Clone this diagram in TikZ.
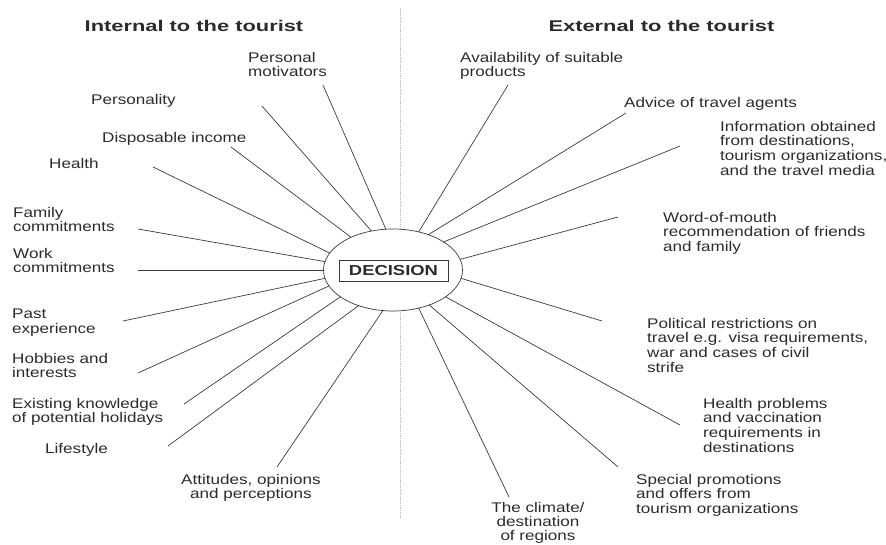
\documentclass[tikz,border=0pt]{standalone}
\usepackage{fontspec}
\setmainfont{Liberation Sans}[FakeStretch=1.22]
\newfontfamily\titlefont{Liberation Sans}[FakeStretch=1.41]
\newfontfamily\decfont{Liberation Sans}[FakeStretch=1.27]
\usetikzlibrary{shapes.geometric}
\definecolor{txt}{HTML}{2B2B2B}
\definecolor{ln}{HTML}{3A3A3A}
\tikzset{
  lab/.style={inner sep=0pt, anchor=north west, align=left, text=txt,
    font=\fontsize{14}{14.6}\selectfont},
  labc/.style={lab, anchor=north, align=center},
  ttl/.style={inner sep=0pt, text=txt, font=\titlefont\bfseries\fontsize{15.5}{18}\selectfont},
  spoke/.style={draw=ln, line width=0.7pt},
}
\begin{document}
\begin{tikzpicture}[x=1pt,y=-1pt]
\useasboundingbox (0,0) rectangle (886,544);
% divider
\draw[densely dotted, gray!55, line width=0.8pt] (400,8) -- (400,518);
% titles
\node[ttl] (tin) at (194,25.5) {Internal to the tourist};
\node[ttl] (tex) at (661.5,25.5) {External to the tourist};
% centre
\node[ellipse, draw=ln, line width=0.7pt, fill=white, minimum width=139pt, minimum height=82pt, inner sep=0pt, outer sep=0pt] (dec) at (393,270) {};
\node[draw=ln, line width=0.9pt, minimum width=109pt, minimum height=21pt, inner sep=0pt, text=txt, font=\decfont\bfseries\fontsize{14.5}{16}\selectfont] (decbox) at (393.5,270.5) {DECISION};
% left labels
\node[lab] (pm) at (248,52) {Personal\\motivators};
\node[lab] (per) at (91,94) {Personality};
\node[lab] (di) at (102,132) {Disposable income};
\node[lab] (he) at (49,158) {Health};
\node[lab] (fc) at (13,207) {Family\\commitments};
\node[lab] (wc) at (13,248) {Work\\commitments};
\node[lab] (pe) at (12,309) {Past\\experience};
\node[lab] (hi) at (12,353) {Hobbies and\\interests};
\node[lab] (ek) at (12,398) {Existing knowledge\\of potential holidays};
\node[lab] (ls) at (45,443) {Lifestyle};
\node[labc] (at) at (251,474) {Attitudes, opinions\\and perceptions};
% right labels
\node[lab] (av) at (460,52) {Availability of suitable\\products};
\node[lab] (ad) at (624,97) {Advice of travel agents};
\node[lab] (inf) at (720,121) {Information obtained\\from destinations,\\tourism organizations,\\and the travel media};
\node[lab] (wm) at (663,212) {Word-of-mouth\\recommendation of friends\\and family};
\node[lab] (po) at (647,318) {Political restrictions on\\travel e.g. visa requirements,\\war and cases of civil\\strife};
\node[lab] (hp) at (703,398) {Health problems\\and vaccination\\requirements in\\destinations};
\node[lab] (sp) at (636,474) {Special promotions\\and offers from\\tourism organizations};
\node[labc, font=\fontsize{14}{14.3}\selectfont] (cl) at (538,502) {The climate/\\destination\\of regions};
% spoke ends
\coordinate (opm) at (323,85);
\coordinate (oper) at (262,106);
\coordinate (odi) at (231,147);
\coordinate (ohe) at (153,167);
\coordinate (ofc) at (138,229);
\coordinate (owc) at (138,270);
\coordinate (ope) at (123,321);
\coordinate (ohi) at (138,373);
\coordinate (oek) at (184,404);
\coordinate (ols) at (168,446);
\coordinate (oat) at (277,467);
\coordinate (oav) at (508,85);
\coordinate (oad) at (626,113);
\coordinate (oinf) at (680,146);
\coordinate (owm) at (618,217);
\coordinate (opo) at (602,321);
\coordinate (ohp) at (680,425);
\coordinate (osp) at (618,467);
\coordinate (ocl) at (509,497);
% spokes
\draw[spoke] (opm) -- (dec.100.8);
\draw[spoke] (oper) -- (dec.119.9);
\draw[spoke] (odi) -- (dec.142.5);
\draw[spoke] (ohe) -- (dec.165);
\draw[spoke] (ofc) -- (dec.173);
\draw[spoke] (owc) -- (dec.180);
\draw[spoke] (ope) -- (dec.187.5);
\draw[spoke] (ohi) -- (dec.194.7);
\draw[spoke] (oek) -- (dec.207.8);
\draw[spoke] (ols) -- (dec.226.6);
\draw[spoke] (oat) -- (dec.256);
\draw[spoke] (oav) -- (dec.56.7);
\draw[spoke] (oad) -- (dec.45.8);
\draw[spoke] (oinf) -- (dec.29);
\draw[spoke] (owm) -- (dec.9);
\draw[spoke] (opo) -- (dec.-7.3);
\draw[spoke] (ohp) -- (dec.-27);
\draw[spoke] (osp) -- (dec.-44);
\draw[spoke] (ocl) -- (dec.-56.7);
\end{tikzpicture}
\end{document}
